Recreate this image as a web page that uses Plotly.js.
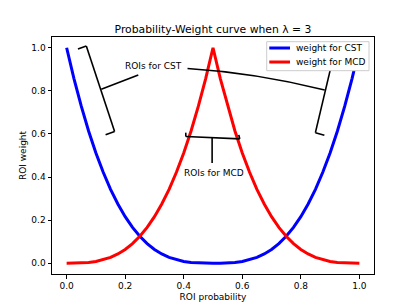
<!DOCTYPE html>
<html>
<head>
<meta charset="utf-8">
<script src="https://cdn.plot.ly/plotly-3.0.1.min.js"></script>
<style>html,body{margin:0;padding:0;background:#fff;}#chart{width:415px;height:308px;}</style>
</head>
<body>
<div id="chart"></div>
<script>
// ROI probability (x) values
const roiProbability = [0.000,0.025,0.050,0.075,0.100,0.125,0.150,0.175,0.200,0.225,0.250,0.275,0.300,0.325,0.350,0.375,0.400,0.425,0.450,0.475,0.500,0.525,0.550,0.575,0.600,0.625,0.650,0.675,0.700,0.725,0.750,0.775,0.800,0.825,0.850,0.875,0.900,0.925,0.950,0.975,1.000];
// weight for CST (blue)
const weightCST = [1.000,0.857,0.729,0.614,0.512,0.422,0.343,0.275,0.216,0.166,0.125,0.091,0.064,0.043,0.027,0.016,0.008,0.003,0.001,0.000,0.000,0.000,0.001,0.003,0.008,0.016,0.027,0.043,0.064,0.091,0.125,0.166,0.216,0.275,0.343,0.422,0.512,0.614,0.729,0.857,1.000];
// weight for MCD (red)
const weightMCD = [0.000,0.000,0.001,0.003,0.008,0.016,0.027,0.043,0.064,0.091,0.125,0.166,0.216,0.275,0.343,0.422,0.512,0.614,0.729,0.857,1.000,0.857,0.729,0.614,0.512,0.422,0.343,0.275,0.216,0.166,0.125,0.091,0.064,0.043,0.027,0.016,0.008,0.003,0.001,0.000,0.000];
const seriesNames = ["weight for CST", "weight for MCD"];
const seriesColors = ["#0000ff", "#ff0000"];
const tickValues = [0.0, 0.2, 0.4, 0.6, 0.8, 1.0];
const tickLabels = ["0.0", "0.2", "0.4", "0.6", "0.8", "1.0"];

const FONT = "DejaVu Sans, sans-serif";

const traces = [
  {x: roiProbability, y: weightCST, name: seriesNames[0], type: "scatter", mode: "lines",
   line: {color: seriesColors[0], width: 3}},
  {x: roiProbability, y: weightMCD, name: seriesNames[1], type: "scatter", mode: "lines",
   line: {color: seriesColors[1], width: 3}}
];

const lw = 1.6;
function seg(x0, y0, x1, y1) {
  return {type: "line", xref: "x", yref: "y", x0: x0, y0: y0, x1: x1, y1: y1,
          line: {color: "#000", width: lw}, layer: "above"};
}

const shapes = [
  // left CST bracket
  seg(0.0386, 0.994, 0.0672, 1.008),
  seg(0.0672, 1.008, 0.1638, 0.611),
  seg(0.1638, 0.611, 0.1331, 0.596),
  seg(0.1184, 0.807, 0.2447, 0.874),
  // right CST bracket
  seg(0.9010, 0.900, 0.8498, 0.606),
  seg(0.8498, 0.606, 0.8805, 0.594),
  {type: "path", xref: "x", yref: "y", path: "M 0.413,0.904 Q 0.647,0.884 0.8816,0.804",
   line: {color: "#000", width: lw}, layer: "above"},
  // MCD bracket
  seg(0.407, 0.606, 0.407, 0.588),
  seg(0.407, 0.588, 0.5915, 0.577),
  seg(0.5915, 0.577, 0.588, 0.596),
  seg(0.497, 0.582, 0.497, 0.465),
  // legend box (drawn above curves and brackets)
  {type: "rect", xref: "paper", yref: "paper", x0: 0.6668, x1: 0.9845, y0: 0.8578, y1: 0.9802,
   fillcolor: "#ffffff", line: {color: "#cccccc", width: 1}, layer: "above"},
  // legend samples
  {type: "line", xref: "paper", yref: "paper", x0: 0.6748, x1: 0.7391, y0: 0.9536, y1: 0.9536,
   line: {color: seriesColors[0], width: 3}, layer: "above"},
  {type: "line", xref: "paper", yref: "paper", x0: 0.6748, x1: 0.7391, y0: 0.8945, y1: 0.8945,
   line: {color: seriesColors[1], width: 3}, layer: "above"}
];

const annotations = [
  {x: 0.297, y: 0.917, xref: "x", yref: "y", text: "ROIs for CST", showarrow: false,
   font: {family: FONT, size: 9, color: "#000"}, xanchor: "center", yanchor: "middle"},
  {x: 0.502, y: 0.417, xref: "x", yref: "y", text: "ROIs for MCD", showarrow: false,
   font: {family: FONT, size: 9, color: "#000"}, xanchor: "center", yanchor: "middle"},
  {x: 0.7578, y: 0.9536, xref: "paper", yref: "paper", text: seriesNames[0], showarrow: false,
   font: {family: FONT, size: 9, color: "#000"}, xanchor: "left", yanchor: "middle", xshift: -2},
  {x: 0.7578, y: 0.8945, xref: "paper", yref: "paper", text: seriesNames[1], showarrow: false,
   font: {family: FONT, size: 9, color: "#000"}, xanchor: "left", yanchor: "middle", xshift: -2}
];

const axisCommon = {
  showgrid: false, zeroline: false, showline: true, linecolor: "#000", linewidth: 1,
  mirror: true, ticks: "outside", ticklen: 3.5, tickwidth: 1, tickcolor: "#000",
  tickvals: tickValues, ticktext: tickLabels,
  tickfont: {family: FONT, size: 9, color: "#000"}, range: [-0.05, 1.05]
};

const layout = {
  width: 415, height: 308,
  margin: {l: 52, r: 41, t: 37, b: 34, pad: 0},
  paper_bgcolor: "#fff", plot_bgcolor: "#fff",
  font: {family: FONT, size: 9, color: "#000"},
  title: {text: "Probability-Weight curve when λ = 3", font: {family: FONT, size: 10.8, color: "#000"},
          x: 0.5, xref: "paper", xanchor: "center", y: 1, yref: "paper", yanchor: "bottom",
          pad: {b: 4, t: 0, l: 0, r: 0}},
  xaxis: Object.assign({}, axisCommon, {title: {text: "ROI probability", font: {family: FONT, size: 9, color: "#000"}, standoff: 3}}),
  yaxis: Object.assign({}, axisCommon, {title: {text: "ROI weight", font: {family: FONT, size: 9, color: "#000"}, standoff: 3}}),
  showlegend: false,
  shapes: shapes,
  annotations: annotations
};

Plotly.newPlot("chart", traces, layout, {staticPlot: true, displayModeBar: false});
</script>
</body>
</html>
